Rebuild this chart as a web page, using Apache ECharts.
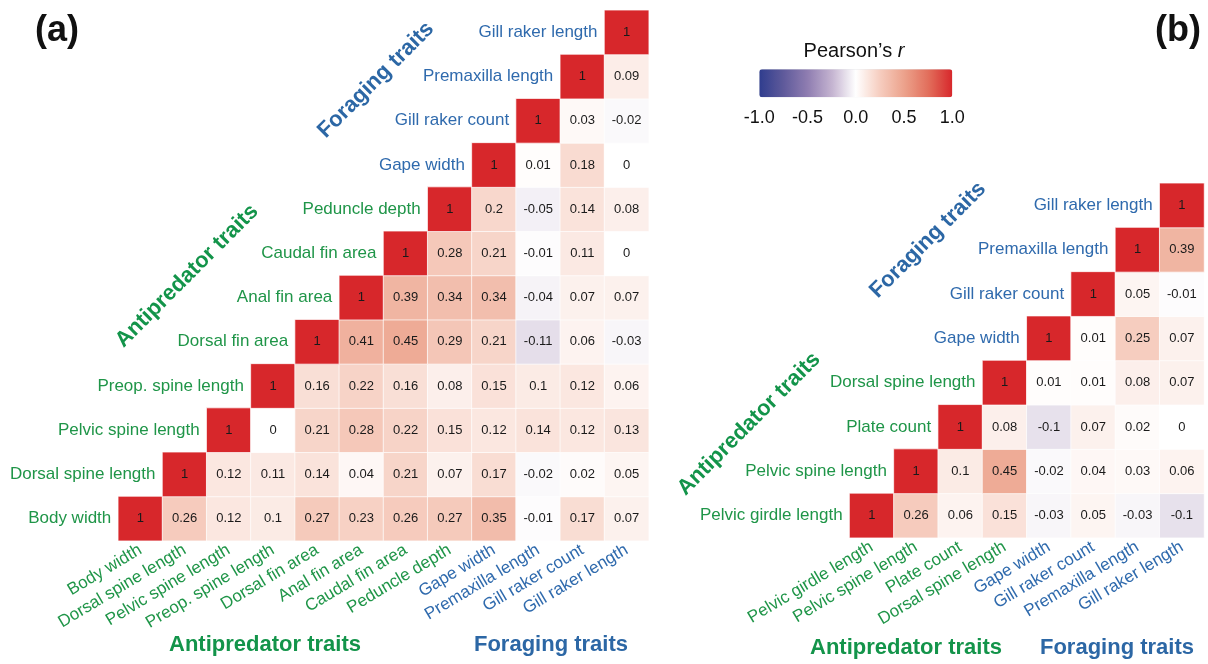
<!DOCTYPE html>
<html>
<head>
<meta charset="utf-8">
<script src="https://cdn.jsdelivr.net/npm/echarts@6/dist/echarts.min.js"></script>
<style>
  html, body { margin: 0; padding: 0; background: #ffffff; }
  #chart { width: 1208px; height: 664px; }
</style>
</head>
<body>
<div id="chart"></div>
<script>
// ---- Panel (a): trait names along the columns (left to right) ----
const aCols = ['Body width', 'Dorsal spine length', 'Pelvic spine length', 'Preop. spine length',
  'Dorsal fin area', 'Anal fin area', 'Caudal fin area', 'Peduncle depth',
  'Gape width', 'Premaxilla length', 'Gill raker count', 'Gill raker length'];
// row names (bottom to top), shown beside the diagonal
const aRows = ['Body width', 'Dorsal spine length', 'Pelvic spine length', 'Preop. spine length',
  'Dorsal fin area', 'Anal fin area', 'Caudal fin area', 'Peduncle depth',
  'Gape width', 'Gill raker count', 'Premaxilla length', 'Gill raker length'];
const aForagingStart = 8;
// correlations per row, starting at the diagonal and running right
const aValues = [
  [1, 0.26, 0.12, 0.1, 0.27, 0.23, 0.26, 0.27, 0.35, -0.01, 0.17, 0.07],
  [1, 0.12, 0.11, 0.14, 0.04, 0.21, 0.07, 0.17, -0.02, 0.02, 0.05],
  [1, 0, 0.21, 0.28, 0.22, 0.15, 0.12, 0.14, 0.12, 0.13],
  [1, 0.16, 0.22, 0.16, 0.08, 0.15, 0.1, 0.12, 0.06],
  [1, 0.41, 0.45, 0.29, 0.21, -0.11, 0.06, -0.03],
  [1, 0.39, 0.34, 0.34, -0.04, 0.07, 0.07],
  [1, 0.28, 0.21, -0.01, 0.11, 0],
  [1, 0.2, -0.05, 0.14, 0.08],
  [1, 0.01, 0.18, 0],
  [1, 0.03, -0.02],
  [1, 0.09],
  [1]
];

// ---- Panel (b) ----
const bCols = ['Pelvic girdle length', 'Pelvic spine length', 'Plate count', 'Dorsal spine length',
  'Gape width', 'Gill raker count', 'Premaxilla length', 'Gill raker length'];
const bRows = bCols.slice();
const bForagingStart = 4;
const bValues = [
  [1, 0.26, 0.06, 0.15, -0.03, 0.05, -0.03, -0.1],
  [1, 0.1, 0.45, -0.02, 0.04, 0.03, 0.06],
  [1, 0.08, -0.1, 0.07, 0.02, 0],
  [1, 0.01, 0.01, 0.08, 0.07],
  [1, 0.01, 0.25, 0.07],
  [1, 0.05, -0.01],
  [1, 0.39],
  [1]
];

// ---- colour scale ----
const scaleTicks = [-1, -0.5, 0, 0.5, 1];
const scaleColors = ['#2f3d8e', '#5f5a9b', '#8f7db1', '#c4b3d0', '#ffffff',
  '#f6cdbf', '#eca28c', '#e26f5c', '#d7272b'];

const GREEN = '#1f9548', BLUE = '#2f6aad';
const GREEN_B = '#13944a', BLUE_B = '#2c67a5';
const FONT = '"Liberation Sans", Arial, Helvetica, sans-serif';

function cells(values) {
  const out = [];
  values.forEach((row, r) => row.forEach((v, k) => out.push([r + k, r, v])));
  return out;
}
function rowLabels(names, foragingStart) {
  return names.map((n, i) => ({
    value: [i, i],
    name: n,
    label: { color: i >= foragingStart ? BLUE : GREEN }
  }));
}

const gridA = { left: 118.3, top: 10.3, width: 530.4, height: 530.4 };
const gridB = { left: 849.6, top: 183.3, width: 354.4, height: 354.4 };
const cellA = gridA.width / aCols.length;
const cellB = gridB.width / bCols.length;

function catX(names, foragingStart, gridIndex) {
  return {
    type: 'category', gridIndex: gridIndex, data: names,
    axisLine: { show: false }, axisTick: { show: false }, splitLine: { show: false },
    axisLabel: {
      interval: 0, rotate: 31, margin: 8, fontSize: 17, fontFamily: FONT,
      color: (v, i) => (i >= foragingStart ? BLUE : GREEN)
    }
  };
}
function catY(names, gridIndex) {
  return { type: 'category', gridIndex: gridIndex, data: names, show: false };
}
function heat(values, xi, yi) {
  return {
    type: 'heatmap', xAxisIndex: xi, yAxisIndex: yi, data: cells(values),
    itemStyle: { borderColor: 'rgba(255,255,255,0.7)', borderWidth: 1 },
    label: {
      show: true, fontSize: 13, fontFamily: FONT, color: '#1a1a1a',
      formatter: p => String(p.value[2])
    },
    emphasis: { disabled: true }
  };
}
function names(labels, xi, yi, size) {
  return {
    type: 'scatter', xAxisIndex: xi, yAxisIndex: yi, data: labels,
    symbol: 'rect', symbolSize: size, silent: true,
    itemStyle: { color: 'rgba(255,255,255,0)', opacity: 1 },
    label: {
      show: true, position: 'left', distance: 7, fontSize: 17, fontFamily: FONT,
      opacity: 1, formatter: p => p.name
    },
    emphasis: { disabled: true }
  };
}

function groupTitle(text, x, y, color, rotation) {
  return {
    type: 'text', x: x, y: y, rotation: rotation || 0,
    style: {
      text: text, fill: color, font: 'bold 22px ' + FONT,
      textAlign: 'center', textVerticalAlign: 'middle', align: 'center', verticalAlign: 'middle'
    }
  };
}
const R45 = Math.PI / 4;

const option = {
  backgroundColor: '#ffffff',
  animation: false,
  grid: [
    gridA, gridB,
    { left: 759.3, top: 96, width: 193, height: 1 }
  ],
  xAxis: [
    catX(aCols, aForagingStart, 0),
    catX(bCols, bForagingStart, 1),
    {
      type: 'value', gridIndex: 2, min: -1, max: 1, interval: 0.5,
      axisLine: { show: false }, axisTick: { show: false }, splitLine: { show: false },
      axisLabel: { margin: 12, fontSize: 18, fontFamily: FONT, color: '#111',
        formatter: v => v.toFixed(1), showMinLabel: true, showMaxLabel: true }
    }
  ],
  yAxis: [
    catY(aRows, 0), catY(bRows, 1),
    { type: 'value', gridIndex: 2, show: false }
  ],
  visualMap: {
    type: 'continuous', min: scaleTicks[0], max: scaleTicks[scaleTicks.length - 1],
    dimension: 2, seriesIndex: [0, 1], calculable: false, hoverLink: false,
    orient: 'horizontal', left: 759.3, top: 69.3, padding: 0,
    itemWidth: 28, itemHeight: 193, text: null, showLabel: false,
    inRange: { color: scaleColors }
  },
  series: [
    heat(aValues, 0, 0),
    heat(bValues, 1, 1),
    names(rowLabels(aRows, aForagingStart), 0, 0, cellA),
    names(rowLabels(bRows, bForagingStart), 1, 1, cellB)
  ],
  graphic: [
    { type: 'text', x: 57, y: 31, style: { text: '(a)', fill: '#111', font: 'bold 36px ' + FONT,
      textAlign: 'center', textVerticalAlign: 'middle', align: 'center', verticalAlign: 'middle' } },
    { type: 'text', x: 1178, y: 31, style: { text: '(b)', fill: '#111', font: 'bold 36px ' + FONT,
      textAlign: 'center', textVerticalAlign: 'middle', align: 'center', verticalAlign: 'middle' } },
    { type: 'text', x: 854, y: 51, style: {
      text: '{n|Pearson\u2019s }{i|r}', textAlign: 'center', textVerticalAlign: 'middle',
      align: 'center', verticalAlign: 'middle', fill: '#111', font: '20px ' + FONT,
      rich: { n: { fontSize: 20, fontFamily: FONT, fill: '#111', color: '#111' },
              i: { fontSize: 20, fontFamily: FONT, fontStyle: 'italic', fill: '#111', color: '#111' } } } },
    groupTitle('Foraging traits', 376, 80, BLUE_B, R45),
    groupTitle('Antipredator traits', 187, 276, GREEN_B, R45),
    groupTitle('Antipredator traits', 265, 645, GREEN_B),
    groupTitle('Foraging traits', 551, 645, BLUE_B),
    groupTitle('Foraging traits', 928, 240, BLUE_B, R45),
    groupTitle('Antipredator traits', 749, 424, GREEN_B, R45),
    groupTitle('Antipredator traits', 906, 648, GREEN_B),
    groupTitle('Foraging traits', 1117, 648, BLUE_B)
  ]
};

const chart = echarts.init(document.getElementById('chart'), null, { renderer: 'canvas' });
chart.setOption(option);
</script>
</body>
</html>
